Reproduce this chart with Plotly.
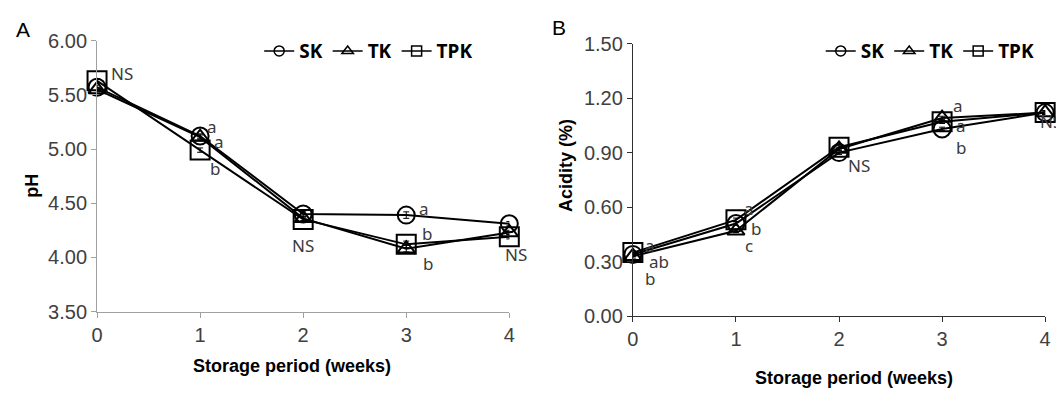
import plotly.graph_objects as go

weeks = [0, 1, 2, 3, 4]
tick_labels = ["0", "1", "2", "3", "4"]

# Panel A: pH
ph_sk = [5.57, 5.12, 4.40, 4.39, 4.31]
ph_tk = [5.55, 5.11, 4.36, 4.08, 4.23]
ph_tpk = [5.63, 4.99, 4.35, 4.12, 4.19]
ph_err_sk = [0.02, 0.02, 0.02, 0.03, 0.02]
ph_err_tk = [0.02, 0.02, 0.02, 0.03, 0.02]
ph_err_tpk = [0.02, 0.02, 0.02, 0.03, 0.02]

# Panel B: acidity (%)
ac_sk = [0.34, 0.51, 0.90, 1.03, 1.12]
ac_tk = [0.33, 0.47, 0.92, 1.09, 1.12]
ac_tpk = [0.35, 0.53, 0.93, 1.07, 1.12]
ac_err_sk = [0.01, 0.01, 0.01, 0.01, 0.01]
ac_err_tk = [0.01, 0.01, 0.01, 0.01, 0.01]
ac_err_tpk = [0.01, 0.01, 0.01, 0.01, 0.01]

series_names = ["SK", "TK", "TPK"]
symbols = ["circle-open", "triangle-up-open", "square-open"]
sizes = [17, 15, 19]

# significance letters: (x, y, text, xshift px)
ph_letters = [(0.24, 5.70, "NS", 0), (1.12, 5.21, "a", 0), (1.18, 5.07, "a", 0), (1.14, 4.82, "b", 0),
              (2.0, 4.11, "NS", 0), (3.17, 4.45, "a", 0), (3.20, 4.22, "b", 0), (3.21, 3.94, "b", 0),
              (4.0, 4.03, "NS", 7)]
ac_letters = [(0.17, 0.39, "a", 0), (0.25, 0.30, "ab", 0), (0.17, 0.21, "b", 0),
              (1.13, 0.59, "a", 0), (1.19, 0.48, "b", 0), (1.13, 0.39, "c", 0),
              (2.19, 0.83, "NS", 0), (3.15, 1.16, "a", 0), (3.18, 1.05, "a", 0), (3.18, 0.93, "b", 0),
              (4.0, 1.07, "NS", 6)]

# page has an 8px body margin: map page pixels to figure paper coordinates
W, H, OFF = 1056, 390, 8
def fx(p):
    return (p - OFF) / W
def fy(p):
    return 1 - (p - OFF) / H

fig = go.Figure()

def add_panel(ys, errs, xa, ya, leg):
    for name, sym, sz, y, e in zip(series_names, symbols, sizes, ys, errs):
        fig.add_trace(go.Scatter(
            x=weeks, y=y, name=name, mode="lines+markers", xaxis=xa, yaxis=ya,
            line=dict(color="black", width=2),
            marker=dict(symbol=sym, size=sz, color="black", line=dict(width=2, color="black")),
            error_y=dict(type="data", array=e, color="black", thickness=1, width=3),
            cliponaxis=False, showlegend=False))
    for name, sym in zip(series_names, symbols):
        fig.add_trace(go.Scatter(
            x=[None], y=[None], name=name, mode="lines+markers", xaxis=xa, yaxis=ya,
            line=dict(color="black", width=1.5),
            marker=dict(symbol=sym, size=10, color="black", line=dict(width=1.5, color="black")),
            showlegend=True, legend=leg))

add_panel([ph_sk, ph_tk, ph_tpk], [ph_err_sk, ph_err_tk, ph_err_tpk], "x", "y", "legend")
add_panel([ac_sk, ac_tk, ac_tpk], [ac_err_sk, ac_err_tk, ac_err_tpk], "x2", "y2", "legend2")

tickfont = dict(family="Liberation Sans, Arial", size=20, color="#404040")
common_x = dict(range=[0, 4], tickvals=weeks, ticktext=tick_labels, showline=True,
                ticks="outside", ticklen=5, showgrid=False, zeroline=False, tickfont=tickfont)
common_y = dict(showline=True, ticks="outside", ticklen=5, showgrid=False, zeroline=False,
                tickformat=".2f", tickfont=tickfont)

annotations = []
letter_font = dict(family="Noto Sans", size=17, color="#3a3a3a")
for (x, y, t, s) in ph_letters:
    annotations.append(dict(x=x, y=y, xref="x", yref="y", text=t, showarrow=False, xshift=s,
                            xanchor="center", yanchor="middle", font=letter_font))
for (x, y, t, s) in ac_letters:
    annotations.append(dict(x=x, y=y, xref="x2", yref="y2", text=t, showarrow=False, xshift=s,
                            xanchor="center", yanchor="middle", font=letter_font))

title_font = dict(family="Liberation Sans, Arial", size=18, color="black")

def paper_text(px, py, text, font, angle=0):
    return dict(x=fx(px), y=fy(py), xref="paper", yref="paper", text=text, textangle=angle,
                showarrow=False, xanchor="center", yanchor="middle", font=font)

annotations += [
    paper_text(289, 376, "<b>Storage period (weeks)</b>", title_font),
    paper_text(858, 388, "<b>Storage period (weeks)</b>", title_font),
    paper_text(26, 185, "<b>pH</b>", title_font, -90),
    paper_text(567, 163, "<b>Acidity (%)</b>", title_font, -90),
    paper_text(17, 19, "A", dict(family="Liberation Sans, Arial", size=21, color="black")),
    paper_text(559, 17, "B", dict(family="Liberation Sans, Arial", size=21, color="black")),
]

legend_common = dict(orientation="h", xanchor="left", yanchor="middle", bgcolor="rgba(0,0,0,0)",
                     font=dict(family="Noto Sans", size=19, color="black", weight="bold"),
                     itemsizing="trace", itemwidth=30, tracegroupgap=0)

fig.update_layout(
    width=W, height=H, margin=dict(l=0, r=0, t=0, b=0),
    paper_bgcolor="white", plot_bgcolor="white",
    xaxis=dict(domain=[fx(92), fx(509)], anchor="y", linecolor="#a0a0a0", tickcolor="#a0a0a0", **common_x),
    yaxis=dict(domain=[fy(318), fy(31)], anchor="x", range=[3.5, 6.0], dtick=0.5, tick0=3.5,
               linecolor="#a0a0a0", tickcolor="#a0a0a0", **common_y),
    xaxis2=dict(domain=[fx(634), fx(1051)], anchor="y2", linecolor="#303030", tickcolor="#303030", **common_x),
    yaxis2=dict(domain=[fy(323), fy(34)], anchor="x2", range=[0, 1.5], dtick=0.3, tick0=0,
                linecolor="#303030", tickcolor="#303030", **common_y),
    legend=dict(x=fx(256), y=fy(42), **legend_common),
    legend2=dict(x=fx(824), y=fy(42), **legend_common),
    annotations=annotations,
    showlegend=True,
)

fig.write_html("out.html")
